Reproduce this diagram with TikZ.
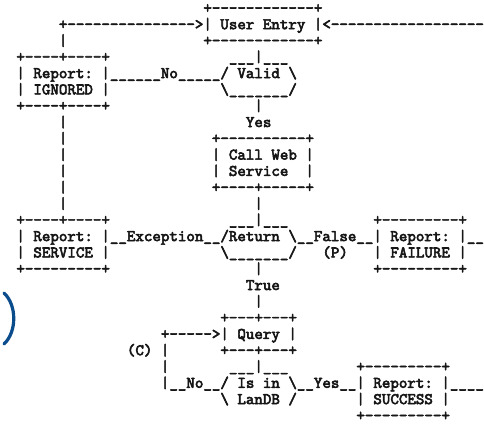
\documentclass[tikz,border=0pt]{standalone}
\usepackage{fontspec}
\definecolor{ink}{HTML}{161616}
\definecolor{markblue}{HTML}{0B4C8C}
% monospaced heavy face for the character drawing
\newfontfamily\asciifam{lmmono10-regular.otf}[FakeBold=3.5]
\newcommand\asciifont{\asciifam\fontsize{16.19pt}{16.3pt}\selectfont\frenchspacing}
% runs of repeated characters (kerns keep hyphens from merging)
\newcommand\hy[1]{\foreach\k in {1,...,#1}{-\kern0pt}}
\newcommand\us[1]{\foreach\k in {1,...,#1}{\_}}
\newcommand\bsl{\textbackslash}
% character cell: column #1, row #2 (baseline)
\newcommand\cell[2]{({16.4+8.5*#1},{12.9+16.3*#2})}
\tikzset{ascii/.style={font=\asciifont, text=ink, inner sep=0pt, outer sep=0pt, anchor=base west}}
\begin{document}
\begin{tikzpicture}[x=1pt,y=-1pt]
\fill[white] (0,0) rectangle (484,423);
\useasboundingbox (0,0) rectangle (484,423);

% User Entry
\node[ascii] (ueTop) at \cell{22}{0} {+\hy{12}+};
\node[ascii] (ueRow) at \cell{5}{1} {+\hy{15}>| User Entry |<\hy{18}};
\node[ascii] (spineL2) at \cell{5}{2} {|};
\node[ascii] (ueBot) at \cell{22}{2} {+\hy{12}+};

% Report IGNORED and Valid
\node[ascii] (ignTop) at \cell{0}{3} {+\hy{4}+\hy{4}+};
\node[ascii] (valTop) at \cell{25}{3} {\us{3}|\us{3}};
\node[ascii] (ignRow) at \cell{0}{4} {| Report: |\us{6}No\us{5}/ Valid \bsl};
\node[ascii] (ignRow2) at \cell{0}{5} {| IGNORED |};
\node[ascii] (valBot) at \cell{24}{5} {\bsl\us{7}/};
\node[ascii] (ignBot) at \cell{0}{6} {+\hy{4}+\hy{4}+};
\node[ascii] (spineM6) at \cell{28}{6} {|};

% Yes and Call Web Service
\node[ascii] (spineL7) at \cell{5}{7} {|};
\node[ascii] (yesLbl) at \cell{27}{7} {Yes};
\node[ascii] (spineL8) at \cell{5}{8} {|};
\node[ascii] (cwsTop) at \cell{23}{8} {+\hy{10}+};
\node[ascii] (spineL9) at \cell{5}{9} {|};
\node[ascii] (cwsRow) at \cell{23}{9} {| Call Web |};
\node[ascii] (spineL10) at \cell{5}{10} {|};
\node[ascii] (cwsRow2) at \cell{23}{10} {| Service~~|};
\node[ascii] (spineL11) at \cell{5}{11} {|};
\node[ascii] (cwsBot) at \cell{23}{11} {+\hy{4}+\hy{5}+};
\node[ascii] (spineL12) at \cell{5}{12} {|};
\node[ascii] (spineM12) at \cell{28}{12} {|};

% Report SERVICE, Return, Report FAILURE
\node[ascii] (svcTop) at \cell{0}{13} {+\hy{4}+\hy{4}+};
\node[ascii] (retTop) at \cell{25}{13} {\us{3}|\us{3}};
\node[ascii] (failTop) at \cell{42}{13} {+\hy{9}+};
\node[ascii] (svcRow) at \cell{0}{14} {| Report: |\us{2}Exception\us{2}/Return \bsl\us{2}False\us{2}| Report: |\us{2}};
\node[ascii] (svcRow2) at \cell{0}{15} {| SERVICE |};
\node[ascii] (retBot) at \cell{24}{15} {\bsl\us{7}/};
\node[ascii] (pLbl) at \cell{36}{15} {(P)};
\node[ascii] (failRow2) at \cell{42}{15} {| FAILURE |};
\node[ascii] (svcBot) at \cell{0}{16} {+\hy{9}+};
\node[ascii] (spineM16) at \cell{28}{16} {|};
\node[ascii] (failBot) at \cell{42}{16} {+\hy{9}+};

% True and Query
\node[ascii] (trueLbl) at \cell{27}{17} {True};
\node[ascii] (spineM18) at \cell{28}{18} {|};
\node[ascii] (qryTop) at \cell{24}{19} {+\hy{3}+\hy{3}+};
\node[ascii] (qryRow) at \cell{17}{20} {+\hy{5}>| Query |};
\node[ascii] (cLbl) at \cell{13}{21} {(C)};
\node[ascii] (loop21) at \cell{17}{21} {|};
\node[ascii] (qryBot) at \cell{24}{21} {+\hy{3}+\hy{3}+};

% Is in LanDB and Report SUCCESS
\node[ascii] (loop22) at \cell{17}{22} {|};
\node[ascii] (ldbTop) at \cell{25}{22} {\us{3}|\us{3}};
\node[ascii] (sucTop) at \cell{40}{22} {+\hy{9}+};
\node[ascii] (ldbRow) at \cell{17}{23} {|\us{2}No\us{2}/ Is in \bsl\us{2}Yes\us{2}| Report: |\us{4}};
\node[ascii] (ldbBot) at \cell{24}{24} {\bsl\ LanDB /};
\node[ascii] (sucRow2) at \cell{40}{24} {| SUCCESS |};
\node[ascii] (sucBot) at \cell{40}{25} {+\hy{9}+};

% blue bracket at the left edge
\draw[markblue, line width=3.2pt, line cap=round] (4,293) .. controls (17,305) and (17,332) .. (4,344);
\end{tikzpicture}
\end{document}
